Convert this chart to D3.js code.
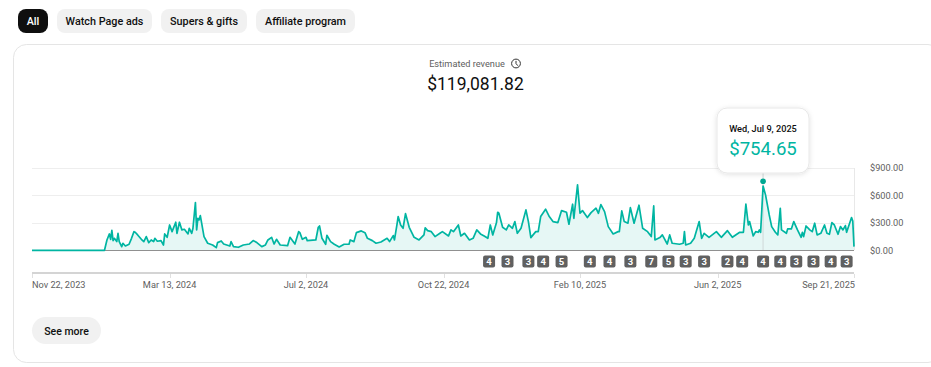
<!DOCTYPE html>
<html><head><meta charset="utf-8">
<script src="https://cdn.jsdelivr.net/npm/d3@7"></script>
<style>html,body{margin:0;padding:0;background:#fff;overflow:hidden}svg{display:block;font-family:Roboto,sans-serif}</style>
</head><body><div id="chart"></div>
<script>
const startDate = new Date(2023, 10, 22);
const dayOffsets = [0,59,61,63,64,65,66,67,69,70,71,73,74,76,79,81,83,84,86,89,91,93,95,97,99,100,102,105,107,108,110,112,114,117,118,120,122,124,127,128,130,131,133,134,135,136,137,140,143,147,150,151,154,156,161,162,164,168,172,177,180,183,187,190,192,195,197,199,202,208,210,214,217,
218,220,223,224,231,233,234,236,239,240,243,246,250,254,258,259,262,264,268,271,273,277,280,284,289,291,294,295,297,298,300,302,304,307,311,315,319,320,322,325,328,332,334,339,341,343,347,349,352,356,359,362,365,368,371,
373,375,378,379,380,383,386,388,391,393,395,398,402,404,406,410,412,414,418,421,424,428,431,435,437,440,441,444,446,448,452,455,459,461,463,466,469,473,477,
478,480,482,485,487,490,494,497,501,504,506,507,511,513,517,519,521,527,530,531,532,536,539,543,545,547,551,557,561,566,570,
576,579,581,583,584,587,589,591,592,593,595,597,600,602,605,607,609,610,614,615,618,620,623,626,627,628,630,633,635,637,639,642,645,647,649,651,653,656,658,660,662,663,667,668,669];
const revenue = [0,0,113,179,120,219,106,131,95,186,95,40,77,47,66,131,204,197,168,120,95,150,84,113,95,131,99,106,58,179,142,277,204,307,186,307,223,230,179,241,186,241,522,223,350,332,380,150,77,58,29,84,102,69,47,95,40,33,58,69,106,84,40,58,113,142,69,120,58,51,142,69,204,
193,120,142,106,113,252,266,131,66,164,95,66,36,66,66,113,95,193,212,193,131,106,77,91,131,95,161,113,277,369,277,241,401,252,142,113,168,245,215,204,150,186,204,157,223,204,277,157,186,113,131,223,179,157,131,
277,168,300,416,405,252,223,277,241,314,186,241,442,314,139,204,204,369,449,369,314,303,434,416,285,504,350,715,405,434,358,412,460,405,500,423,259,179,204,
204,431,314,296,467,296,493,241,204,150,485,113,139,168,69,168,77,66,77,204,58,77,131,314,131,186,142,204,142,215,142,
197,197,504,277,314,157,204,197,223,197,703,606,387,259,197,168,460,223,186,234,234,314,223,142,197,150,266,223,204,296,168,186,277,186,175,303,277,175,259,223,270,197,358,320,40];
const badgeDays = [372,387,404,416,431,454,470,487,504,518,532,547,566,578,595,609,622,636,650,663];
const badgeLabels = ["4","3","3","4","5","4","4","3","7","5","3","3","2","4","4","4","3","3","4","3"];
const tickDates = [[2023,10,22],[2024,2,13],[2024,6,2],[2024,9,22],[2025,1,10],[2025,5,2],[2025,8,21]];
const tickLabels = ["Nov 22, 2023","Mar 13, 2024","Jul 2, 2024","Oct 22, 2024","Feb 10, 2025","Jun 2, 2025","Sep 21, 2025"];
const yTicks = [0,300,600,900];
const chipLabels = ["All","Watch Page ads","Supers & gifts","Affiliate program"];
const chipEdges = [[18,48],[57,152],[161,247],[256,355]];
const highlightDay = 595, highlightValue = 754.65, highlightDate = "Wed, Jul 9, 2025";
const totalText = "$119,081.82";

const TEAL = "#00b5a2";
const svg = d3.select("#chart").append("svg").attr("width",931).attr("height",367);
const defs = svg.append("defs");
const f = defs.append("filter").attr("id","sh").attr("x","-20%").attr("y","-20%").attr("width","140%").attr("height","150%");
f.append("feDropShadow").attr("dx",0).attr("dy",1).attr("stdDeviation",2.5).attr("flood-color","#000").attr("flood-opacity",0.12);

// chips
chipLabels.forEach((t,i)=>{
  const [a,b]=chipEdges[i];
  svg.append("rect").attr("x",a).attr("y",9).attr("width",b-a).attr("height",24).attr("rx",8)
    .attr("fill",i===0?"#0f0f0f":"#f1f1f1");
  svg.append("text").attr("x",(a+b)/2).attr("y",24.5).attr("text-anchor","middle")
    .attr("font-size",10.8).attr("font-weight",500).attr("fill",i===0?"#fff":"#0f0f0f").text(t);
});
// card
svg.append("rect").attr("x",13.5).attr("y",44.5).attr("width",927.5).attr("height",318).attr("rx",13)
  .attr("fill","#fff").attr("stroke","#e5e5e5");
// heading
svg.append("text").attr("x",467).attr("y",66.5).attr("text-anchor","middle").attr("font-size",9.2).attr("fill","#606060").text("Estimated revenue");
const clock = svg.append("g").attr("transform","translate(516,63.5)").attr("fill","none").attr("stroke","#333").attr("stroke-width",1);
clock.append("circle").attr("r",4.4);
clock.append("path").attr("d","M0,-2.6V0L1.8,2.2");
svg.append("text").attr("x",475.5).attr("y",90).attr("text-anchor","middle").attr("font-size",17.5).attr("fill","#0f0f0f").text(totalText);

// scales
const x = d3.scaleLinear().domain([0,669]).range([32,854]);
const y = d3.scaleLinear().domain([0,900]).range([250.3,168]);
const data = dayOffsets.map((d,i)=>({d,v:revenue[i]}));

// grid
svg.append("g").selectAll("line").data(yTicks.slice(1)).join("line")
  .attr("x1",32).attr("x2",854).attr("y1",d=>Math.round(y(d))+.5).attr("y2",d=>Math.round(y(d))+.5)
  .attr("stroke","#eeeeee");
svg.append("line").attr("x1",854.5).attr("x2",854.5).attr("y1",168).attr("y2",250).attr("stroke","#e8e8e8");
// area + line
const area = d3.area().x(d=>x(d.d)).y0(y(0)).y1(d=>y(d.v));
const line = d3.line().x(d=>x(d.d)).y(d=>y(d.v));
svg.append("path").datum(data).attr("d",area).attr("fill","#e6f7f5");
// hover rule
svg.append("line").attr("x1",x(highlightDay)).attr("x2",x(highlightDay)).attr("y1",173).attr("y2",250).attr("stroke","#cfd8d8");
// baseline
svg.append("line").attr("x1",32).attr("x2",854).attr("y1",250.5).attr("y2",250.5).attr("stroke","#909090").attr("stroke-width",1);
svg.append("path").datum(data).attr("d",line).attr("fill","none").attr("stroke",TEAL).attr("stroke-width",1.7).attr("stroke-linejoin","round");
// y labels
const yAxis = d3.axisRight(y).tickValues(yTicks).tickSize(0).tickPadding(0).tickFormat(d=>"$"+d3.format(".2f")(d));
const yg = svg.append("g").attr("transform","translate(870,0)").call(yAxis);
yg.select(".domain").remove();
yg.selectAll("text").attr("font-family","Roboto,sans-serif").attr("font-size",9.2).attr("fill","#606060");
// badges
const bg = svg.append("g").selectAll("g").data(badgeDays).join("g").attr("transform",d=>`translate(${x(d)},261.5)`);
bg.append("rect").attr("x",-6).attr("y",-6).attr("width",12).attr("height",12).attr("rx",2).attr("fill","#606060");
bg.append("text").attr("y",3.5).attr("text-anchor","middle").attr("font-size",9.5).attr("font-weight",700).attr("fill","#fff").text((d,i)=>badgeLabels[i]);
// x axis
const dayOf = a => Math.round((new Date(a[0],a[1],a[2]) - startDate)/864e5);
const tickDays = tickDates.map(dayOf);
svg.append("line").attr("x1",32).attr("x2",854).attr("y1",273).attr("y2",273).attr("stroke","#d4d4d4").attr("stroke-width",2);
svg.append("g").selectAll("line").data(tickDays).join("line")
  .attr("x1",d=>Math.round(x(d))+.5).attr("x2",d=>Math.round(x(d))+.5).attr("y1",274).attr("y2",278).attr("stroke","#e0e0e0");
svg.append("g").selectAll("text").data(tickDays).join("text")
  .attr("x",(d,i)=> i===0?32: i===tickDays.length-1?855:x(d)).attr("y",288)
  .attr("text-anchor",(d,i)=> i===0?"start": i===tickDays.length-1?"end":"middle")
  .attr("font-size",9.2).attr("fill","#606060").text((d,i)=>tickLabels[i]);
// tooltip
svg.append("circle").attr("cx",x(highlightDay)).attr("cy",y(highlightValue)).attr("r",2.8).attr("fill","#00a892");
svg.append("rect").attr("x",717).attr("y",108).attr("width",92).attr("height",65).attr("rx",10)
  .attr("fill","#fff").attr("stroke","#e8e8e8").attr("filter","url(#sh)");
svg.append("text").attr("x",763).attr("y",131.5).attr("text-anchor","middle").attr("font-size",9.2).attr("font-weight",500).attr("fill","#0f0f0f").text(highlightDate);
svg.append("text").attr("x",763).attr("y",155).attr("text-anchor","middle").attr("font-size",18.6).attr("fill",TEAL).text("$"+highlightValue.toFixed(2));
// see more
svg.append("rect").attr("x",32).attr("y",317).attr("width",69).attr("height",27).attr("rx",13.5).attr("fill","#f1f1f1");
svg.append("text").attr("x",66.5).attr("y",334.5).attr("text-anchor","middle").attr("font-size",10.5).attr("font-weight",500).attr("fill","#0f0f0f").text("See more");
</script></body></html>
